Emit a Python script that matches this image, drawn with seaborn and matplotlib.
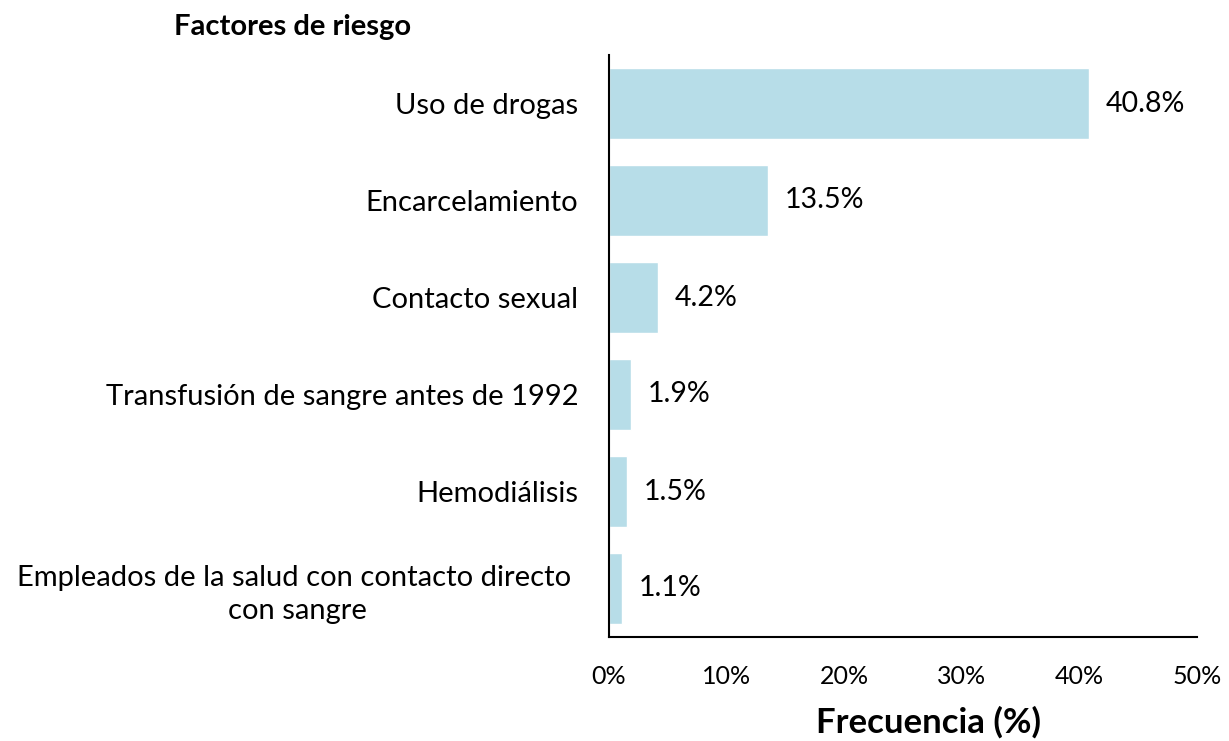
import matplotlib
matplotlib.use("Agg")
import matplotlib.pyplot as plt
import seaborn as sns
import pandas as pd
from matplotlib.ticker import FuncFormatter

categories = [
    "Uso de drogas",
    "Encarcelamiento",
    "Contacto sexual",
    "Transfusión de sangre antes de 1992",
    "Hemodiálisis",
    "Empleados de la salud con contacto directo \ncon sangre",
]
values = [40.8, 13.5, 4.2, 1.9, 1.5, 1.1]
x_ticks = [0, 10, 20, 30, 40, 50]

sns.set_theme(style="white")
plt.rcParams["font.family"] = ["Lato", "DejaVu Sans"]
plt.rcParams["text.color"] = "black"

df = pd.DataFrame({"factor": categories, "freq": values})

fig = plt.figure(figsize=(12.29, 7.41), dpi=100)
ax = fig.add_axes([609 / 1229, 1 - 637 / 741, (1197 - 609) / 1229, (637 - 55) / 741])

sns.barplot(data=df, x="freq", y="factor", orient="h", color="#b7dde8",
            width=0.74, ax=ax, saturation=1)

ax.set_xlim(0, 50)
ax.set_xticks(x_ticks)
ax.xaxis.set_major_formatter(FuncFormatter(lambda v, p: f"{v:.0f}%"))
ax.tick_params(axis="x", length=0, labelsize=18, pad=20, colors="black")
ax.tick_params(axis="y", length=0, labelsize=21, pad=22, colors="black")
for lbl in ax.get_yticklabels():
    lbl.set_multialignment("center")
    lbl.set_linespacing(1.35)

for s in ["top", "right"]:
    ax.spines[s].set_visible(False)
for s in ["left", "bottom"]:
    ax.spines[s].set_color("black")
    ax.spines[s].set_linewidth(1.5)

ax.set_ylabel("")
ax.set_xlabel("")

for i, v in enumerate(values):
    ax.annotate(f"{v}%", xy=(v, i), xytext=(12, 0), textcoords="offset points",
                ha="left", va="center", fontsize=20.5, color="black")

fig.text(293 / 1229, 1 - 27 / 741, "Factores de riesgo", ha="center", va="center",
         fontsize=21, fontweight="bold", color="black")
fig.text(928 / 1229, 1 - 722 / 741, "Frecuencia (%)", ha="center", va="center",
         fontsize=25, fontweight="bold", color="black")

fig.savefig("out.png", dpi=100)
